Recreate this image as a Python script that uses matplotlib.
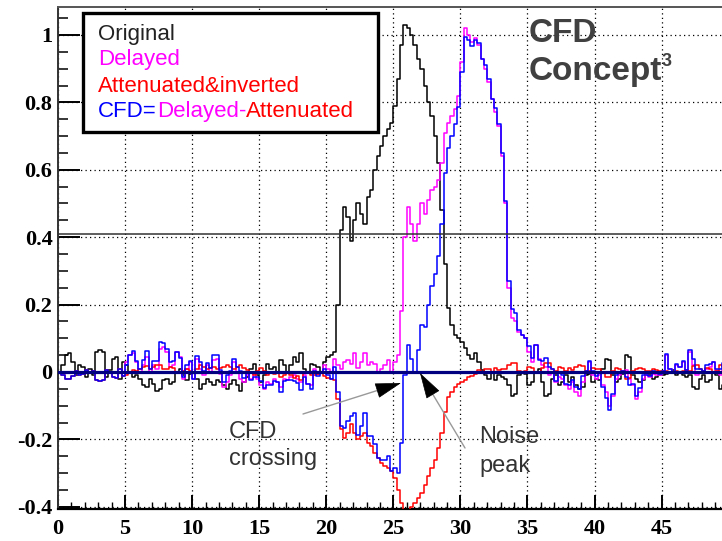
import numpy as np
import matplotlib
matplotlib.use("Agg")
import matplotlib.pyplot as plt
from matplotlib.patches import Rectangle
from matplotlib.text import Annotation

# ---- sampled waveforms (0.25 ns bins, t = 0 ... 49.75 ns) ----
t_step = 0.25
n_samples = 200

original = [
    0.00, 0.02, 0.05, 0.055, 0.03, -0.01, 0.02, 0.015, -0.015, 0.01, -0.01, 0.06, 0.065, 0.06, -0.015, 0.005, 0.04, 0.045, -0.02, 0.03,
    0.02, 0.0, -0.015, -0.01, -0.02, -0.04, -0.045, -0.02, -0.035, -0.055, -0.05, -0.025, -0.02, -0.035, -0.03, 0.0, 0.01, -0.01, -0.025, -0.005,
    0.0, -0.02, -0.05, -0.035, -0.02, -0.03, -0.04, -0.025, -0.03, -0.04, -0.05, -0.035, -0.025, -0.04, -0.055, -0.03, -0.015, 0.01, 0.025, -0.01,
    -0.03, -0.01, 0.025, 0.01, 0.015, 0.0, 0.035, 0.02, 0.0, 0.02, 0.045, 0.03, 0.057, 0.01, 0.0, 0.025, 0.02, 0.015, 0.0, 0.03,
    0.045, 0.05, 0.06, 0.2, 0.42, 0.49, 0.46, 0.39, 0.45, 0.50, 0.47, 0.44, 0.52, 0.54, 0.60, 0.64, 0.67, 0.70, 0.72, 0.74,
    0.79, 0.87, 0.97, 1.03, 1.02, 1.0, 0.97, 0.93, 0.90, 0.85, 0.80, 0.76, 0.70, 0.62, 0.48, 0.32, 0.19, 0.14, 0.11, 0.10,
    0.09, 0.07, 0.05, 0.04, 0.055, 0.03, 0.005, -0.01, -0.02, 0.0, -0.025, -0.01, -0.015, -0.02, -0.04, -0.07, -0.065, -0.01, 0.0, -0.005,
    -0.04, -0.03, 0.0, 0.01, -0.03, -0.07, -0.065, -0.02, -0.01, -0.04, -0.03, -0.01, -0.03, -0.015, -0.04, -0.05, -0.045, -0.01, -0.005, -0.03,
    -0.02, -0.025, 0.01, 0.04, 0.035, -0.01, -0.03, -0.02, -0.005, 0.05, 0.045, -0.01, -0.02, -0.03, -0.025, -0.005, -0.01, -0.02, -0.015, -0.01,
    -0.01, -0.005, 0.0, 0.005, -0.01, 0.0, -0.01, -0.015, -0.01, -0.045, -0.05, -0.02, -0.01, -0.03, -0.025, 0.0, -0.01, -0.05, -0.04, -0.03,
]

delayed = [
    0.0, 0.0, 0.0, 0.0, 0.0, 0.0, 0.0, 0.0, 0.0, 0.0, 0.0, 0.0, 0.0, 0.0, 0.0, 0.0, 0.0, 0.0, 0.0, 0.0,
    0.03, 0.05, 0.055, 0.03, 0.0, 0.02, 0.045, 0.0, 0.02, 0.01, 0.068, 0.075, 0.06, 0.015, 0.02, 0.06, 0.045, -0.02, 0.01, 0.03,
    -0.02, 0.04, 0.01, -0.01, 0.02, 0.0, 0.035, 0.04, -0.005, -0.045, -0.03, -0.01, 0.03, 0.0, -0.02, -0.03, -0.01, -0.02, -0.005, -0.02,
    -0.04, -0.05, -0.03, -0.035, -0.02, -0.03, -0.045, -0.02, -0.025, -0.015, -0.01, -0.02, -0.03, -0.01, -0.035, -0.04, 0.01, -0.005, 0.0, 0.02,
    0.01, 0.0, 0.04, 0.02, 0.01, 0.03, 0.035, 0.025, 0.057, 0.013, 0.03, 0.057, 0.02, 0.03, 0.025, 0.0, 0.01, 0.02, 0.035, 0.0,
    0.03, 0.05, 0.18, 0.40, 0.49, 0.44, 0.39, 0.44, 0.50, 0.47, 0.51, 0.54, 0.55, 0.57, 0.62, 0.71, 0.74, 0.76, 0.78, 0.82,
    0.92, 1.02, 1.0, 0.98, 0.99, 0.97, 0.93, 0.90, 0.86, 0.81, 0.77, 0.73, 0.64, 0.50, 0.25, 0.16, 0.15, 0.12, 0.11, 0.10,
    0.06, 0.03, 0.08, 0.04, 0.02, 0.015, -0.01, 0.0, -0.03, -0.015, -0.02, -0.04, -0.05, -0.03, -0.06, -0.07, -0.03, 0.0, 0.03, -0.01,
    -0.02, -0.01, -0.04, -0.06, -0.1, -0.07, -0.02, -0.01, 0.0, 0.005, -0.02, -0.04, -0.08, -0.06, -0.02, -0.01, -0.015, -0.005, -0.01, -0.01,
    0.0, 0.05, 0.01, 0.0, 0.02, 0.015, 0.03, 0.0, 0.06, 0.02, -0.01, 0.0, 0.0, 0.01, 0.015, 0.03, 0.005, -0.01, 0.01, 0.02,
]

attenuated_inverted = [
    0.0, -0.008, -0.02, -0.022, -0.012, 0.004, -0.008, -0.006, 0.006, -0.004, 0.004, -0.024, -0.026, -0.024, 0.006, -0.002, -0.016, -0.018, 0.008, -0.012,
    -0.008, 0.0, 0.006, 0.004, 0.008, 0.016, 0.018, 0.008, 0.014, 0.022, 0.02, 0.01, 0.008, 0.014, 0.012, 0.0, -0.004, 0.004, 0.01, 0.002,
    0.0, 0.008, 0.02, 0.014, 0.008, 0.012, 0.016, 0.01, 0.012, 0.016, 0.02, 0.014, 0.01, 0.016, 0.022, 0.012, 0.006, -0.004, -0.01, 0.004,
    0.012, 0.004, -0.01, -0.004, -0.006, 0.0, -0.014, -0.008, 0.0, -0.008, -0.018, -0.012, -0.023, -0.004, 0.0, -0.01, -0.008, -0.006, 0.0, -0.012,
    -0.018, -0.02, -0.024, -0.08, -0.17, -0.195, -0.18, -0.155, -0.18, -0.20, -0.19, -0.18, -0.21, -0.22, -0.24, -0.255, -0.27, -0.28, -0.285, -0.295,
    -0.315, -0.35, -0.39, -0.41, -0.41, -0.40, -0.39, -0.375, -0.36, -0.335, -0.31, -0.285, -0.26, -0.225, -0.18, -0.12, -0.075, -0.06, -0.045, -0.035,
    -0.03, -0.025, -0.015, -0.012, -0.005, 0.005, 0.0, 0.01, 0.008, 0.0, 0.012, 0.005, 0.01, 0.008, 0.02, 0.028, 0.026, 0.004, 0.0, 0.002,
    0.016, 0.012, 0.0, -0.004, 0.012, 0.028, 0.026, 0.008, 0.004, 0.016, 0.012, 0.004, 0.012, 0.006, 0.016, 0.02, 0.018, 0.004, 0.002, 0.012,
    0.008, 0.01, -0.004, -0.016, -0.014, 0.004, 0.012, 0.008, 0.002, -0.02, -0.018, 0.004, 0.008, 0.012, 0.01, 0.002, 0.004, 0.008, 0.006, 0.004,
    0.004, 0.002, 0.0, -0.002, 0.004, 0.0, 0.004, 0.006, 0.004, 0.018, 0.02, 0.008, 0.004, 0.012, 0.01, 0.0, 0.004, 0.02, 0.016, 0.012,
]

cfd = [
    0.0, -0.008, -0.02, -0.022, -0.012, 0.004, -0.008, -0.006, 0.006, -0.004, 0.004, -0.024, -0.026, -0.024, 0.006, -0.002, -0.016, -0.018, 0.008, -0.012,
    0.022, 0.05, 0.061, 0.034, 0.008, 0.036, 0.063, 0.008, 0.034, 0.032, 0.088, 0.085, 0.068, 0.029, 0.032, 0.06, 0.041, -0.016, 0.02, 0.032,
    -0.02, 0.048, 0.03, 0.004, 0.028, 0.012, 0.051, 0.05, 0.007, -0.029, -0.01, 0.004, 0.04, 0.016, 0.002, -0.018, -0.004, -0.024, -0.015, -0.016,
    -0.028, -0.046, -0.04, -0.039, -0.026, -0.03, -0.059, -0.028, -0.025, -0.023, -0.028, -0.032, -0.053, -0.014, -0.035, -0.05, 0.002, -0.011, 0.0, 0.008,
    -0.008, -0.02, 0.016, -0.06, -0.16, -0.165, -0.145, -0.13, -0.123, -0.187, -0.16, -0.123, -0.19, -0.19, -0.215, -0.255, -0.26, -0.26, -0.25, -0.295,
    -0.285, -0.30, -0.21, -0.01, 0.08, 0.04, 0.0, 0.065, 0.14, 0.135, 0.20, 0.255, 0.29, 0.345, 0.44, 0.59, 0.665, 0.70, 0.735, 0.785,
    0.89, 0.995, 0.985, 0.968, 0.985, 0.975, 0.93, 0.91, 0.868, 0.81, 0.782, 0.735, 0.65, 0.508, 0.27, 0.188, 0.176, 0.124, 0.11, 0.102,
    0.076, 0.042, 0.08, 0.036, 0.032, 0.043, 0.016, 0.008, -0.026, 0.001, -0.008, -0.036, -0.038, -0.024, -0.044, -0.05, -0.012, 0.004, 0.032, 0.002,
    -0.012, 0.0, -0.044, -0.076, -0.114, -0.066, -0.008, -0.002, 0.002, -0.015, -0.038, -0.036, -0.072, -0.048, -0.01, -0.008, -0.011, 0.003, -0.004, -0.006,
    0.004, 0.052, 0.01, -0.002, 0.024, 0.015, 0.034, 0.006, 0.064, 0.038, 0.01, 0.008, 0.004, 0.022, 0.025, 0.03, 0.009, 0.01, 0.026, 0.032,
]

threshold_level = 0.41
baseline_level = 0.0

x_major = [0, 5, 10, 15, 20, 25, 30, 35, 40, 45]
x_major_labels = ["0", "5", "10", "15", "20", "25", "30", "35", "40", "45"]
y_major = [-0.4, -0.2, 0.0, 0.2, 0.4, 0.6, 0.8, 1.0]
y_major_labels = ["-0.4", "-0.2", "0", "0.2", "0.4", "0.6", "0.8", "1"]

# ---- figure ----
W, H = 722, 541
fig = plt.figure(figsize=(W / 100, H / 100), dpi=100)
fig.patch.set_facecolor("white")


def P(px, py):
    """pixel position (from top-left) -> figure fraction"""
    return px / W, 1 - py / H


ax_left, ax_right, ax_top, ax_bottom = 58, 722, 7, 509
ax = fig.add_axes([ax_left / W, 1 - ax_bottom / H,
                   (ax_right - ax_left) / W, (ax_bottom - ax_top) / H])
ax.set_xlim(0, 49.5)
ax.set_ylim(-0.4065, 1.083)

time = t_step * np.arange(n_samples)

ax.grid(True, which="major", color="black", linestyle=(0, (1, 2.6)), linewidth=0.9)
ax.set_axisbelow(True)

ax.plot(time, original, drawstyle="steps-post", color="black", lw=1.1, zorder=3)
ax.plot(time, delayed, drawstyle="steps-post", color="#ff00ff", lw=1.1, zorder=3)
ax.plot(time, attenuated_inverted, drawstyle="steps-post", color="#ff0000", lw=1.1, zorder=3)
ax.plot(time, cfd, drawstyle="steps-post", color="#0000ff", lw=1.1, zorder=3)

ax.axhline(threshold_level, color="#333333", lw=1.1, zorder=4)
ax.axhline(baseline_level, color="#000080", lw=2.3, zorder=5)

# ---- axes frame & ticks ----
ax.spines["right"].set_visible(False)
ax.spines["top"].set_color("#555555")
ax.spines["top"].set_linewidth(1.4)
ax.spines["left"].set_color("#333333")
ax.spines["left"].set_linewidth(1.4)
ax.spines["bottom"].set_color("black")
ax.spines["bottom"].set_linewidth(1.6)

ax.set_xticks(x_major)
ax.set_xticklabels(x_major_labels)
ax.set_xticks(np.arange(0, 50, 1), minor=True)
ax.set_yticks(y_major)
ax.set_yticklabels(y_major_labels)
ax.set_yticks(np.arange(-0.4, 1.08, 0.05), minor=True)

ax.tick_params(axis="y", which="major", direction="in", length=16, width=1.4, pad=4)
ax.tick_params(axis="y", which="minor", direction="in", length=7.5, width=1.1)
ax.tick_params(axis="x", which="major", direction="in", length=10, width=1.4, pad=7)
ax.tick_params(axis="x", which="minor", direction="in", length=5, width=1.0)
ax.tick_params(top=False, right=False, which="both")

for lab in ax.get_xticklabels() + ax.get_yticklabels():
    lab.set_fontfamily("Liberation Serif")
    lab.set_fontweight("bold")
    lab.set_fontsize(16)

# ---- legend box ----
x0, y0 = P(83, 132)
x1, y1 = P(378, 13)
fig.add_artist(Rectangle((x0, y0), x1 - x0, y1 - y0, transform=fig.transFigure,
                         facecolor="white", edgecolor="black", lw=2.4, zorder=6))

leg_font = dict(family="Liberation Sans", size=16, va="baseline", ha="left", zorder=7)
fig.text(*P(98, 40), "Original", color="#222222", **leg_font)
fig.text(*P(98, 65), "Delayed", color="#ff00ff", **leg_font)
fig.text(*P(98, 92), "Attenuated&inverted", color="#ff0000", **leg_font)
prev = fig.text(*P(98, 117), "CFD=", color="#0000ff", **leg_font)
for piece, col in [("Delayed", "#ff00ff"), ("-", "#ff00ff"), ("Attenuated", "#ff0000")]:
    nxt = Annotation(piece, xy=(1, 0), xycoords=prev, va="bottom", ha="left",
                     color=col, family="Liberation Sans", size=16)
    nxt.set_zorder(7)
    fig.add_artist(nxt)
    prev = nxt

# ---- title ----
title_font = dict(family="Liberation Sans", weight="bold", color="#404040",
                  va="baseline", ha="left")
fig.text(*P(529, 42), "CFD", size=24, **title_font)
fig.text(*P(529, 80), "Concept", size=24, **title_font)
fig.text(*P(662, 66), "3", size=13, **title_font)

# ---- annotations ----
note_font = dict(family="Liberation Sans", size=17, color="#333333", va="baseline", ha="left")
fig.text(*P(229, 438), "CFD", **note_font)
fig.text(*P(229, 465), "crossing", **note_font)
fig.text(*P(479, 443), "Noise", **note_font)
fig.text(*P(479, 472), "peak", **note_font)


def pointer(start, tip):
    sx, sy = start
    tx, ty = tip
    ax.annotate("", xy=(tx, H - ty), xycoords="figure pixels",
                xytext=(sx, H - sy), textcoords="figure pixels",
                arrowprops=dict(arrowstyle="-", color="#999999", lw=1.0,
                                shrinkA=0, shrinkB=6), zorder=8)
    d = np.hypot(tx - sx, ty - sy)
    bx = tx - (tx - sx) / d * 24
    by = ty - (ty - sy) / d * 24
    ax.annotate("", xy=(tx, H - ty), xycoords="figure pixels",
                xytext=(bx, H - by), textcoords="figure pixels",
                arrowprops=dict(arrowstyle="-|>,head_length=17,head_width=5",
                                mutation_scale=1, color="black", lw=0.5,
                                shrinkA=0, shrinkB=0), zorder=9)


pointer((303, 414), (401, 383))
pointer((465, 448), (420, 373))

fig.savefig("out.png", dpi=100, facecolor="white")
